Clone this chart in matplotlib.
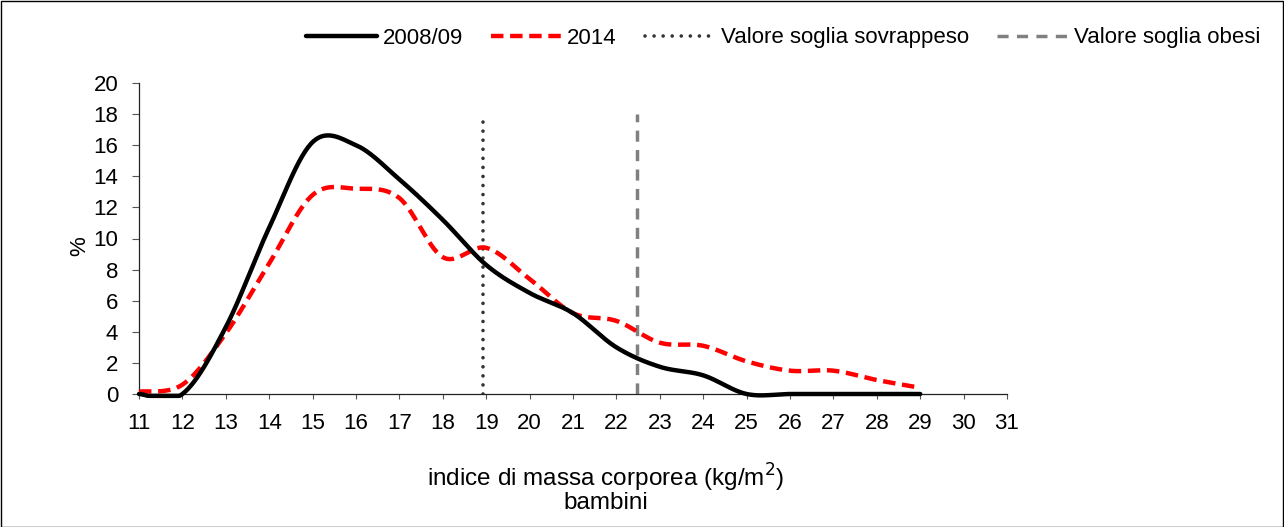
import numpy as np
import matplotlib
matplotlib.use("Agg")
import matplotlib.pyplot as plt
from matplotlib.patches import Rectangle

plt.rcParams['font.family'] = ['Liberation Sans', 'DejaVu Sans']

# BMI classes and percentages
bmi = [11, 12, 13, 14, 15, 16, 17, 18, 19, 20, 21, 22, 23, 24, 25, 26, 27, 28, 29]
pct_2008 = [0.0, 0.0, 4.3, 10.7, 16.2, 16.0, 13.8, 11.2, 8.3, 6.5, 5.2, 3.0, 1.75, 1.2, 0.0, 0.0, 0.0, 0.0, 0.0]
pct_2014 = [0.15, 0.6, 3.9, 8.4, 12.8, 13.2, 12.6, 8.8, 9.4, 7.4, 5.2, 4.7, 3.3, 3.1, 2.1, 1.5, 1.5, 0.9, 0.4]

# threshold lines
soglia_sovrappeso = 18.92
soglia_obesi = 22.48
soglia_top = 18

FS = 16


def smooth(x, y, n=30):
    # excel-like smoothed line (catmull-rom through the points)
    x = np.asarray(x, float)
    y = np.asarray(y, float)
    px = np.concatenate([[x[0]], x, [x[-1]]])
    py = np.concatenate([[y[0]], y, [y[-1]]])
    xs, ys = [], []
    t = np.linspace(0, 1, n)
    for i in range(1, len(px) - 2):
        p0, p1, p2, p3 = (np.array([px[j], py[j]]) for j in (i - 1, i, i + 1, i + 2))
        c1 = p1 + (p2 - p0) / 6
        c2 = p2 - (p3 - p1) / 6
        pts = ((1 - t) ** 3)[:, None] * p1 + (3 * (1 - t) ** 2 * t)[:, None] * c1 \
            + (3 * (1 - t) * t ** 2)[:, None] * c2 + (t ** 3)[:, None] * p2
        xs.extend(pts[:, 0])
        ys.extend(pts[:, 1])
    # keep the overshoot below zero small, like the original
    return np.array(xs), np.maximum(np.array(ys), -0.12)


fig = plt.figure(figsize=(12.84, 5.27), dpi=100)
ax = fig.add_axes([139 / 1284, 1 - 394 / 527, (1007 - 139) / 1284, (394 - 83) / 527])

sx, sy = smooth(bmi, pct_2008)
ax.plot(sx, sy, color='black', linewidth=3.2, label='2008/09', solid_capstyle='round',
        clip_on=False, zorder=4)
sx, sy = smooth(bmi, pct_2014)
ax.plot(sx, sy, color='#ff0000', linewidth=3.2, linestyle=(0, (2.8, 1.5)), label='2014',
        clip_on=False, zorder=3)

ax.plot([soglia_sovrappeso, soglia_sovrappeso], [0, soglia_top], color='#333333',
        linewidth=2.6, linestyle=(0, (0.01, 2.5)), dash_capstyle='round',
        label='Valore soglia sovrappeso')
ax.plot([soglia_obesi, soglia_obesi], [0, soglia_top], color='#808080',
        linewidth=2.5, linestyle=(0, (3.2, 2.4)), label='Valore soglia obesi')

ax.set_xlim(11, 31)
ax.set_ylim(0, 20)
ax.set_xticks(range(11, 32))
ax.set_yticks(range(0, 21, 2))
ax.tick_params(labelsize=FS, width=0.8, colors='#555555', labelcolor='black')
ax.tick_params(axis='x', length=3.6, pad=10)
ax.tick_params(axis='y', length=5, pad=10)
for s in ['top', 'right']:
    ax.spines[s].set_visible(False)
for s in ['left', 'bottom']:
    ax.spines[s].set_color('#222222')
    ax.spines[s].set_linewidth(0.9)

fig.text(80 / 1284, 1 - 246 / 527, '%', rotation=90, fontsize=FS, ha='center', va='center')
fig.text(606 / 1284, 1 - 478 / 527, 'indice di massa corporea (kg/m$^2$)', fontsize=17.5,
         ha='center', va='center')
fig.text(606 / 1284, 1 - 503 / 527, 'bambini', fontsize=17.5, ha='center', va='center')

fig.legend(loc='center', bbox_to_anchor=(783 / 1284, 1 - 38 / 527), ncol=4, frameon=False,
           fontsize=FS, handlelength=3.2, handletextpad=0.25, columnspacing=1.25,
           borderpad=0)

fig.patches.append(Rectangle((0.5 / 1284, 0.5 / 527), 1 - 1.5 / 1284, 1 - 1.5 / 527,
                             transform=fig.transFigure, fill=False, edgecolor='black',
                             linewidth=1))

fig.savefig('out.png', dpi=100)
